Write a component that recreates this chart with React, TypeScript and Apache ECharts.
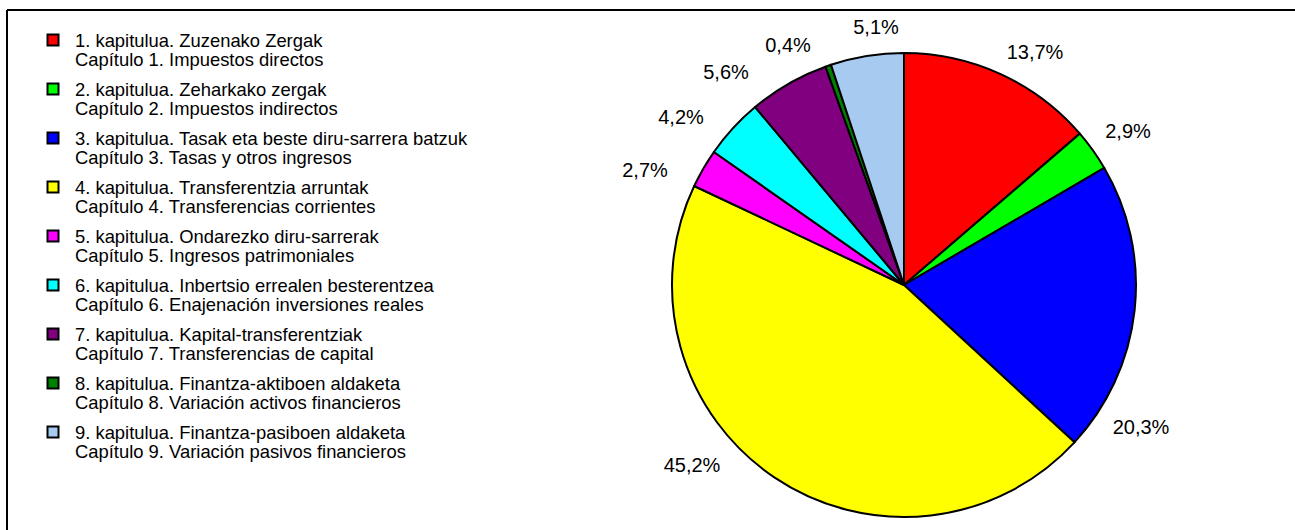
import React, { useEffect, useRef } from "react";
import * as echarts from "echarts";

const NAMES_EU = [
  "1. kapitulua. Zuzenako Zergak",
  "2. kapitulua. Zeharkako zergak",
  "3. kapitulua. Tasak eta beste diru-sarrera batzuk",
  "4. kapitulua. Transferentzia arruntak",
  "5. kapitulua. Ondarezko diru-sarrerak",
  "6. kapitulua. Inbertsio errealen besterentzea",
  "7. kapitulua. Kapital-transferentziak",
  "8. kapitulua. Finantza-aktiboen aldaketa",
  "9. kapitulua. Finantza-pasiboen aldaketa",
];
const NAMES_ES = [
  "Capítulo 1. Impuestos directos",
  "Capítulo 2. Impuestos indirectos",
  "Capítulo 3. Tasas y otros ingresos",
  "Capítulo 4. Transferencias corrientes",
  "Capítulo 5. Ingresos patrimoniales",
  "Capítulo 6. Enajenación inversiones reales",
  "Capítulo 7. Transferencias de capital",
  "Capítulo 8. Variación activos financieros",
  "Capítulo 9. Variación pasivos financieros",
];
const VALUES = [13.7, 2.9, 20.3, 45.2, 2.7, 4.2, 5.6, 0.4, 5.1];
const COLORS = [
  "#FF0000",
  "#00FF00",
  "#0000FF",
  "#FFFF00",
  "#FF00FF",
  "#00FFFF",
  "#800080",
  "#008000",
  "#A6CAF0",
];
// label anchor points (layout only)
const LABEL_POS = [
  [1035, 52],
  [1128, 131],
  [1141, 427],
  [692, 465],
  [645, 170],
  [681, 117],
  [726, 72],
  [788, 45],
  [876, 27],
];

const FONT = "Liberation Sans, Arial, sans-serif";

export default function App() {
  const ref = useRef<HTMLDivElement>(null);
  useEffect(() => {
    if (!ref.current) return;
    const chart = echarts.init(ref.current, undefined, { renderer: "svg" });
    const legendEls: any[] = [];
    NAMES_EU.forEach((n, i) => {
      legendEls.push({
        type: "rect",
        shape: { x: 47.5, y: 34.5 + i * 49, width: 11, height: 11 },
        style: { fill: COLORS[i], stroke: "#000", lineWidth: 2 },
      });
      legendEls.push({
        type: "text",
        x: 75,
        y: 30.5 + i * 49,
        style: {
          text: n + "\n" + NAMES_ES[i],
          font: `18.4px ${FONT}`,
          lineHeight: 19,
          verticalAlign: "top",
          fill: "#000",
        },
      });
    });
    chart.setOption({
      animation: false,
      backgroundColor: "#fff",
      graphic: [
        {
          type: "line",
          shape: { x1: 7, y1: 10, x2: 1295, y2: 10 },
          style: { stroke: "#000", lineWidth: 2 },
        },
        {
          type: "line",
          shape: { x1: 7, y1: 10, x2: 7, y2: 530 },
          style: { stroke: "#000", lineWidth: 2 },
        },
        ...legendEls,
      ],
      series: [
        {
          type: "pie",
          center: [904, 285],
          radius: 232,
          startAngle: 90,
          clockwise: true,
          avoidLabelOverlap: false,
          silent: true,
          data: VALUES.map((v, i) => ({
            value: v,
            name: NAMES_EU[i],
            itemStyle: { color: COLORS[i] },
          })),
          itemStyle: { borderColor: "#000", borderWidth: 2 },
          label: {
            show: true,
            position: "outside",
            formatter: (p: any) => p.value.toFixed(1).replace(".", ",") + "%",
            fontFamily: FONT,
            fontSize: 20,
            color: "#000",
          },
          labelLine: { show: false },
          labelLayout: (params: any) => ({
            x: LABEL_POS[params.dataIndex][0],
            y: LABEL_POS[params.dataIndex][1],
            align: "center",
            verticalAlign: "middle",
          }),
        },
      ],
    });
    return () => chart.dispose();
  }, []);
  return (
    <div
      ref={ref}
      style={{ position: "fixed", left: 0, top: 0, width: 1295, height: 530 }}
    />
  );
}
